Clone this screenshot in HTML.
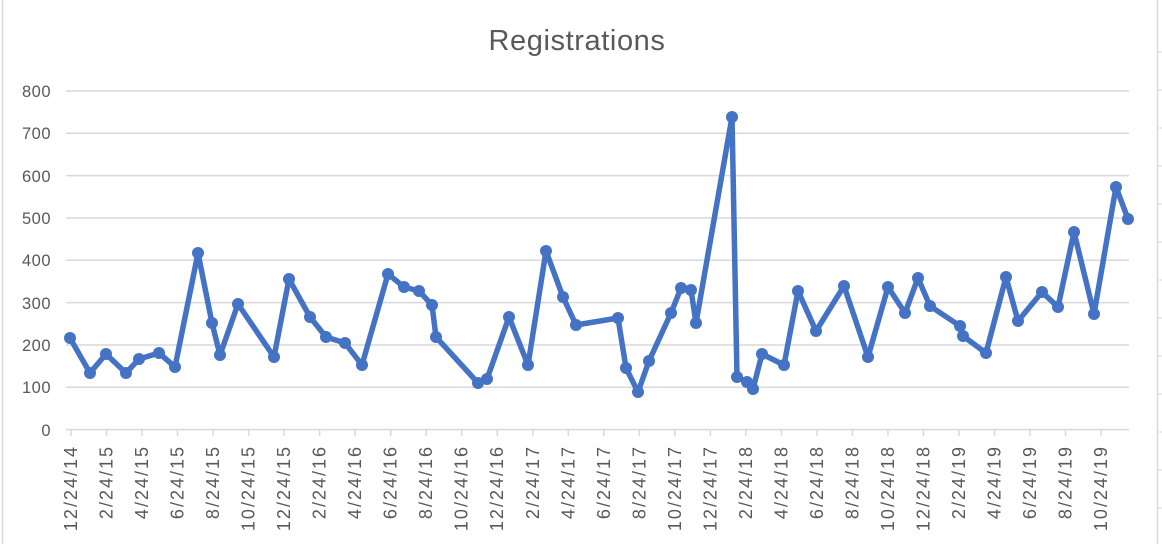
<!DOCTYPE html>
<html><head><meta charset="utf-8"><style>
html,body{margin:0;padding:0;background:#fff;}
svg{display:block;font-family:"Liberation Sans",sans-serif;}
</style></head><body>
<svg width="1162" height="544" viewBox="0 0 1162 544" xmlns="http://www.w3.org/2000/svg">
<rect width="1162" height="544" fill="#fff"/>
<line x1="2.5" y1="0" x2="2.5" y2="544" stroke="#d9d9d9" stroke-width="1.5"/>
<line x1="1157.5" y1="0" x2="1157.5" y2="544" stroke="#d9d9d9" stroke-width="1.5"/>
<g stroke="#d9d9d9" stroke-width="1">
<line x1="1157" y1="52" x2="1162" y2="52"/><line x1="1157" y1="90" x2="1162" y2="90"/><line x1="1157" y1="128" x2="1162" y2="128"/><line x1="1157" y1="166" x2="1162" y2="166"/><line x1="1157" y1="204" x2="1162" y2="204"/><line x1="1157" y1="242" x2="1162" y2="242"/><line x1="1157" y1="280" x2="1162" y2="280"/><line x1="1157" y1="318" x2="1162" y2="318"/><line x1="1157" y1="356" x2="1162" y2="356"/><line x1="1157" y1="394" x2="1162" y2="394"/><line x1="1157" y1="432" x2="1162" y2="432"/><line x1="1157" y1="470" x2="1162" y2="470"/><line x1="1157" y1="508" x2="1162" y2="508"/>
</g>
<text x="577" y="50" font-size="29" fill="#595959" text-anchor="middle" letter-spacing="0.6">Registrations</text>
<g stroke="#d9d9d9" stroke-width="1.5">
<line x1="66" y1="91" x2="1129" y2="91"/>
<line x1="66" y1="133.3" x2="1129" y2="133.3"/>
<line x1="66" y1="175.6" x2="1129" y2="175.6"/>
<line x1="66" y1="218" x2="1129" y2="218"/>
<line x1="66" y1="260.3" x2="1129" y2="260.3"/>
<line x1="66" y1="302.6" x2="1129" y2="302.6"/>
<line x1="66" y1="345" x2="1129" y2="345"/>
<line x1="66" y1="387.3" x2="1129" y2="387.3"/>
<line x1="66" y1="429.6" x2="1129" y2="429.6"/>
</g>
<g font-size="16.5" fill="#595959" text-anchor="end" letter-spacing="0.5">
<text x="51" y="97">800</text><text x="51" y="139">700</text><text x="51" y="182">600</text><text x="51" y="224">500</text><text x="51" y="266">400</text><text x="51" y="309">300</text><text x="51" y="351">200</text><text x="51" y="393">100</text><text x="51" y="436">0</text>
</g>
<g id="ticks" stroke="#d9d9d9" stroke-width="1.5"></g>
<g id="xl" font-size="18" fill="#595959" text-anchor="end" letter-spacing="2"></g>
<polyline fill="none" stroke="#4472c4" stroke-width="5.5" stroke-linejoin="round" points="70,338 90,373 106,354 126,373 139,359 159,353 175,367 198,253 212,323 220,355 238,304 274,357 289,279 310,317 326,337 345,343 362,365 388,274 404,287 419,291 432,305 436,337 478,383 487,379 509,317 528,365 546,251 563,297 576,325 618,318 626,368 638,392 649,361 671,313 681,288 691,290 696,323 732,117 737,377 747,382 753,389 762,354 784,365 798,291 816,331 844,286 868,357 888,287 905,313 918,278 930,306 960,326 963,336 986,353 1006,277 1018,321 1042,292 1058,307 1074,232 1094,314 1116,187 1128,219"/>
<g id="dots" fill="#4472c4"></g>
<script>
var pts="70,338 90,373 106,354 126,373 139,359 159,353 175,367 198,253 212,323 220,355 238,304 274,357 289,279 310,317 326,337 345,343 362,365 388,274 404,287 419,291 432,305 436,337 478,383 487,379 509,317 528,365 546,251 563,297 576,325 618,318 626,368 638,392 649,361 671,313 681,288 691,290 696,323 732,117 737,377 747,382 753,389 762,354 784,365 798,291 816,331 844,286 868,357 888,287 905,313 918,278 930,306 960,326 963,336 986,353 1006,277 1018,321 1042,292 1058,307 1074,232 1094,314 1116,187 1128,219".split(" ");
var ns="http://www.w3.org/2000/svg",d=document.getElementById("dots");
pts.forEach(function(p){var a=p.split(","),c=document.createElementNS(ns,"circle");c.setAttribute("cx",a[0]);c.setAttribute("cy",a[1]);c.setAttribute("r","6");d.appendChild(c);});
var labs=[];var m=12,y=14;
for(var i=0;i<30;i++){labs.push(m+"/24/"+y);m+=2;if(m>12){m-=12;y++;}}
var t=document.getElementById("ticks"),xl=document.getElementById("xl");
for(var i=0;i<30;i++){var x=71+35.52*i;
var l=document.createElementNS(ns,"line");l.setAttribute("x1",x);l.setAttribute("x2",x);l.setAttribute("y1",430);l.setAttribute("y2",436);t.appendChild(l);
var tx=document.createElementNS(ns,"text");tx.setAttribute("transform","translate("+(x+6)+",445) rotate(-90)");tx.textContent=labs[i];xl.appendChild(tx);}
</script>
</svg>
</body></html>
